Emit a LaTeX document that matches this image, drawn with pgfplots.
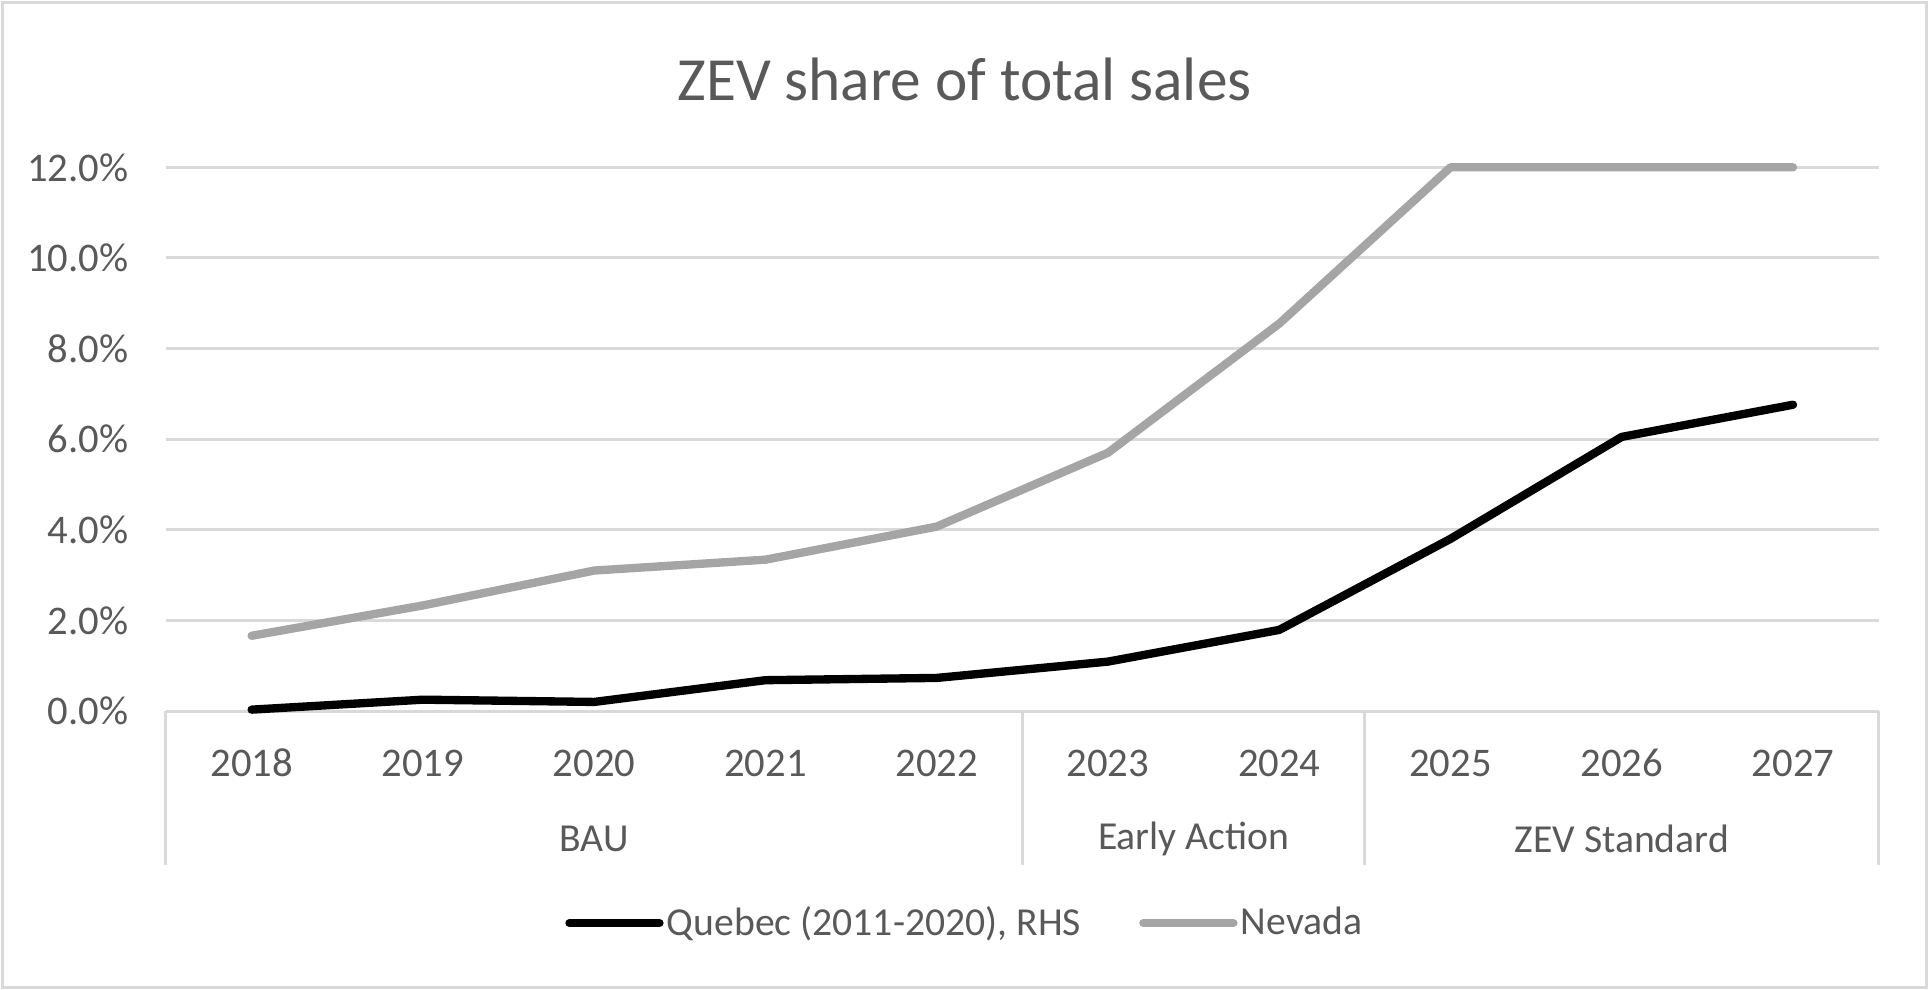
\documentclass[border=0pt]{standalone}
\usepackage{pgfplots}
\pgfplotsset{compat=1.18}
\usepackage{fontspec}
\setmainfont{Carlito}
\definecolor{txt}{HTML}{595959}
\definecolor{gridc}{HTML}{D9D9D9}
\definecolor{nev}{HTML}{A5A5A5}
\begin{document}
\begin{tikzpicture}
\path[use as bounding box] (-49.8pt,-83.7pt) rectangle (528.9pt,213.3pt);
\draw[gridc, line width=0.75pt] (-49.05pt,-82.95pt) rectangle (528.15pt,212.55pt);
\begin{axis}[
  at={(0,0)}, anchor=south west,
  scale only axis, width=513.8pt, height=163.1pt,
  xmin=-0.5, xmax=9.5, ymin=0, ymax=12,
  clip=false,
  axis line style={draw=none},
  major tick style={draw=none},
  ymajorgrids, grid style={gridc, line width=0.9pt},
  ytick={0,2,4,6,8,10,12},
  yticklabels={0.0\%,2.0\%,4.0\%,6.0\%,8.0\%,10.0\%,12.0\%},
  yticklabel style={font=\fontsize{12.2}{14}\selectfont, text=txt, anchor=east, inner sep=0pt, xshift=-11.1pt},
  xtick={0,1,2,3,4,5,6,7,8,9},
  xticklabels={2018,2019,2020,2021,2022,2023,2024,2025,2026,2027},
  xticklabel style={font=\fontsize{12.2}{14}\selectfont, text=txt, anchor=center, inner sep=0pt, yshift=-15.6pt},
  legend columns=2,
  legend style={at={(0.4663,-0.39)}, anchor=center, draw=none, fill=none,
    font=\fontsize{11.9}{14}\selectfont, text=txt,
    nodes={inner sep=0.5pt},
    /tikz/every odd column/.append style={column sep=0.5pt},
    /tikz/every even column/.append style={column sep=17pt}},
  legend image code/.code={\draw[#1, line cap=round] (0pt,0pt) -- (27pt,0pt);},
]
\addplot[black, line width=2.5pt, line join=round, line cap=round] coordinates {
  (0,0.03) (1,0.25) (2,0.20) (3,0.68) (4,0.73) (5,1.09) (6,1.79) (7,3.80) (8,6.05) (9,6.76)};
\addlegendentry{Quebec (2011-2020), RHS}
\addplot[nev, line width=2.5pt, line join=round, line cap=round] coordinates {
  (0,1.66) (1,2.33) (2,3.10) (3,3.34) (4,4.07) (5,5.70) (6,8.55) (7,12.0) (8,12.0) (9,12.0)};
\addlegendentry{Nevada}
\foreach \xx in {-0.5,4.5,6.5,9.5}{
  \edef\tmp{\noexpand\draw[gridc, line width=0.9pt] (axis cs:\xx,0) -- ([yshift=-46.2pt]axis cs:\xx,0);}\tmp
}
\node[font=\fontsize{11.9}{14}\selectfont, text=txt] at ([yshift=-38.4pt]axis cs:2,0) {BAU};
\node[font=\fontsize{11.9}{14}\selectfont, text=txt] at ([yshift=-38.4pt]axis cs:5.5,0) {Early Action};
\node[font=\fontsize{11.9}{14}\selectfont, text=txt] at ([yshift=-38.4pt]axis cs:8,0) {ZEV Standard};
\node[font=\fontsize{18.4}{22}\selectfont, text=txt] at (rel axis cs:0.4663,1.1625) {ZEV share of total sales};
\end{axis}
\end{tikzpicture}
\end{document}
